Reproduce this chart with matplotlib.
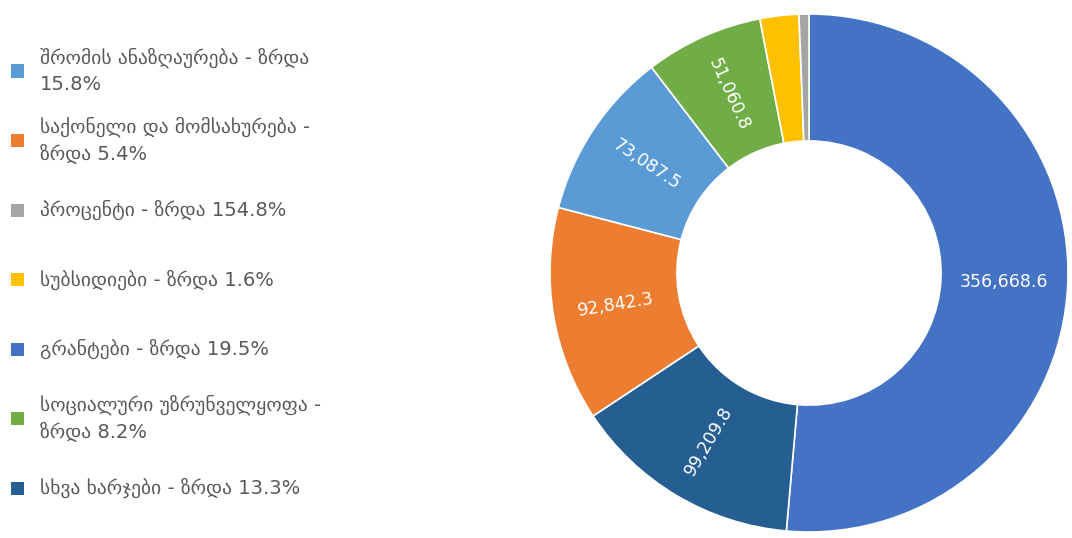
import textwrap
import numpy as np
import matplotlib
matplotlib.use("Agg")
import matplotlib.pyplot as plt
from matplotlib.patches import Rectangle

plt.rcParams['font.family'] = ['DejaVu Sans']

# Slice order (clockwise from 12 o'clock)
slice_names = ["გრანტები", "სხვა ხარჯები", "საქონელი და მომსახურება",
               "შრომის ანაზღაურება", "სოციალური უზრუნველყოფა",
               "სუბსიდიები", "პროცენტი"]
slice_values = [356668.6, 99209.8, 92842.3, 73087.5, 51060.8, 16800.0, 4300.0]
slice_colors = ["#4472C4", "#255E91", "#ED7D31", "#5B9BD5", "#70AD47",
                "#FFC000", "#A5A5A5"]
show_label = [True, True, True, True, True, False, False]

# Legend order
legend_names = ["შრომის ანაზღაურება", "საქონელი და მომსახურება", "პროცენტი",
                "სუბსიდიები", "გრანტები", "სოციალური უზრუნველყოფა",
                "სხვა ხარჯები"]
legend_growth = ["15.8", "5.4", "154.8", "1.6", "19.5", "8.2", "13.3"]

W, H = 1072, 538
fig = plt.figure(figsize=(W / 100, H / 100), dpi=100)

# Donut
cx, cy, R = 809, 273, 259
ax = fig.add_axes([(cx - R) / W, (H - cy - R) / H, 2 * R / W, 2 * R / H])
wedges, _ = ax.pie(slice_values, colors=slice_colors, startangle=90,
                   counterclock=False, radius=1.0,
                   wedgeprops=dict(width=0.49, edgecolor="white", linewidth=1.2))
ax.set_xlim(-1, 1)
ax.set_ylim(-1, 1)
ax.set_aspect("equal")
ax.axis("off")

rmid = 1.0 - 0.49 / 2
for w, v, show in zip(wedges, slice_values, show_label):
    if not show:
        continue
    ang = (w.theta1 + w.theta2) / 2.0
    x = rmid * np.cos(np.deg2rad(ang))
    y = rmid * np.sin(np.deg2rad(ang))
    rot = ang
    while rot > 90:
        rot -= 180
    while rot < -90:
        rot += 180
    if abs(rot) < 5:
        rot = 0
    ax.text(x, y, f"{v:,.1f}", ha="center", va="center", rotation=rot,
            rotation_mode="anchor", color="white", fontsize=12.5)

# Legend (manual)
sq = 13
y0, dy = 71, 69.5
for i, (name, g) in enumerate(zip(legend_names, legend_growth)):
    yc = y0 + i * dy
    col = slice_colors[slice_names.index(name)]
    fig.patches.append(Rectangle(((11) / W, (H - yc - sq / 2) / H), sq / W, sq / H,
                                 transform=fig.transFigure, facecolor=col,
                                 edgecolor="none"))
    label = textwrap.fill(f"{name} - ზრდა {g}%", 25)
    fig.text(40 / W, (H - yc) / H, label, ha="left", va="center",
             fontsize=14, color="#595959", linespacing=1.45)

fig.savefig("out.png", dpi=100, facecolor="white")
